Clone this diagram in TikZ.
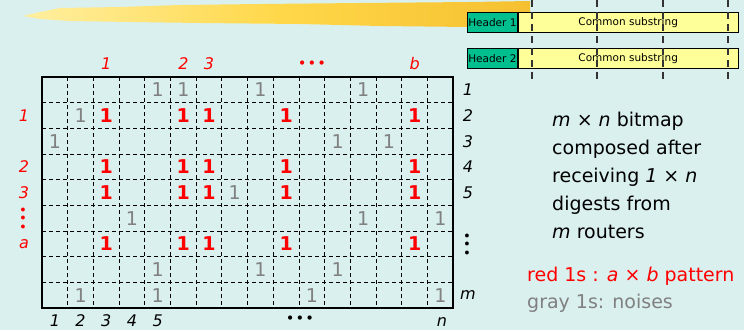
\documentclass[tikz,border=0pt]{standalone}
\usepackage{fontspec}
\setmainfont{DejaVu Sans}
\definecolor{bgc}{HTML}{DAF0EE}
\definecolor{hdr}{HTML}{00BF8F}
\definecolor{csy}{HTML}{FFFF99}
\definecolor{redc}{HTML}{FF0000}
\definecolor{grayc}{HTML}{808080}
\definecolor{brushA}{HTML}{FFEFA0}
\definecolor{brushB}{HTML}{FFD84A}
\definecolor{brushC}{HTML}{F5C030}
\begin{document}
\begin{tikzpicture}[x=1pt,y=-1pt,
  one/.style={font=\fontsize{19}{19}\selectfont, inner sep=0},
  redone/.style={one, text=redc, font=\fontsize{19}{19}\selectfont\bfseries},
  grayone/.style={one, text=grayc},
  lab/.style={font=\fontsize{16}{16}\selectfont\itshape, inner sep=0},
  redlab/.style={lab, text=redc},
  vdots/.style={inner sep=0, rotate=90, font=\fontsize{11}{11}\selectfont\bfseries},
  boxtxt/.style={draw=black, line width=0.8pt, inner sep=0, minimum height=20, anchor=north west, font=\fontsize{10.5}{10.5}\selectfont},
  cutline/.style={draw=black!80, line width=1.1pt, dash pattern=on 7pt off 5pt},
  gridline/.style={draw=black, line width=0.9pt, dash pattern=on 4pt off 3pt},
  body/.style={inner sep=0, anchor=base west, font=\fontsize{19}{19}\selectfont}
]
\def\L{42}\def\T{77}\def\C{25.7}
% background
\fill[bgc] (0,0) rectangle (744,330);
\useasboundingbox (0,0) rectangle (744,330);
\foreach \i in {0,...,82}{\foreach \j in {0,...,36}{\fill[white!70!bgc] (\i*9+4,\j*9+4) circle (0.45);}}
% brush stroke
\shade[left color=brushA, right color=brushC, middle color=brushB]
  (23,16) -- (40,12) -- (60,8) -- (120,7) -- (180,5) -- (260,4) -- (360,3) -- (470,2) -- (530,1)
  -- (530,24) -- (470,27) -- (380,26) -- (300,24) -- (200,23) -- (130,22) -- (70,21) -- (40,19) -- cycle;
% header boxes
\node[boxtxt, fill=hdr, minimum width=50] (h1) at (467,12) {Header 1};
\node[boxtxt, fill=csy, minimum width=220] (s1) at (h1.north east) {Common substring};
\node[boxtxt, fill=hdr, minimum width=50] (h2) at (467,48) {Header 2};
\node[boxtxt, fill=csy, minimum width=220] (s2) at (h2.north east) {Common substring};
\foreach \x [count=\k] in {532,597,663,728}{
  \coordinate (ct\k) at (\x,0);
  \coordinate (cb\k) at (\x,83);
  \draw[cutline] (ct\k) -- (cb\k);
}
% grid
\foreach \c in {1,...,15}{\draw[gridline] ({\L+\c*\C},\T) -- ({\L+\c*\C},{\T+9*\C});}
\foreach \r in {1,...,8}{\draw[gridline] (\L,{\T+\r*\C}) -- ({\L+16*\C},{\T+\r*\C});}
\draw[line width=2.2pt] (\L,\T) rectangle ({\L+16*\C},{\T+9*\C});
% ones
\foreach \r/\c in {1/5,1/6,1/9,1/13,2/2,3/1,3/12,3/14,5/8,6/4,6/13,6/16,8/5,8/9,8/12,9/2,9/5,9/11,9/16}{
  \node[grayone] (g-\r-\c) at ({\L+(\c-0.5)*\C},{\T+(\r-0.5)*\C}) {1};
}
\foreach \r in {2,4,5,7}{\foreach \c in {3,6,7,10,15}{
  \node[redone] (r-\r-\c) at ({\L+(\c-0.5)*\C},{\T+(\r-0.5)*\C}) {1};
}}
% top labels
\node[redlab] (t1) at ({\L+2.5*\C},64) {1};
\node[redlab] (t2) at ({\L+5.5*\C},64) {2};
\node[redlab] (t3) at ({\L+6.5*\C},64) {3};
\node[redlab, font=\fontsize{12}{12}\selectfont\bfseries] (tdots) at (312,64) {•\,•\,•};
\node[redlab] (tb) at ({\L+14.5*\C},64) {b};
% left labels
\node[redlab] (l1) at (24,{\T+1.5*\C}) {1};
\node[redlab] (l2) at (24,{\T+3.5*\C}) {2};
\node[redlab] (l3) at (24,{\T+4.5*\C}) {3};
\node[vdots, text=redc] (ldots) at (24,{\T+5.5*\C}) {•\kern1.5pt•\kern1.5pt•};
\node[redlab] (la) at (24,{\T+6.5*\C}) {a};
% right labels
\foreach \r in {1,...,5}{\node[lab] (rr\r) at (468,{\T+(\r-0.5)*\C}) {\r};}
\node[vdots] (rdots) at (468,{\T+6.5*\C}) {•\kern1.5pt•\kern1.5pt•};
\node[lab] (rm) at (468,{\T+8.5*\C}) {m};
% bottom labels
\foreach \c in {1,...,5}{\node[lab] (b\c) at ({\L+(\c-0.5)*\C},321) {\c};}
\node[lab, font=\fontsize{12}{12}\selectfont\bfseries] (bdots) at (300,319) {•\,•\,•};
\node[lab] (bn) at (442,322) {n};
% explanation text
\node[body] (e1) at (552,126) {\textit{m} × \textit{n} bitmap};
\node[body] (e2) at (552,154) {composed after};
\node[body] (e3) at (552,182) {receiving \textit{1} × \textit{n}};
\node[body] (e4) at (552,210) {digests from};
\node[body] (e5) at (552,238) {\textit{m} routers};
\node[body, text=redc] (e6) at (527,281) {red 1s : \textit{a} × \textit{b} pattern};
\node[body, text=grayc] (e7) at (527,308) {gray 1s: noises};
\end{tikzpicture}
\end{document}
